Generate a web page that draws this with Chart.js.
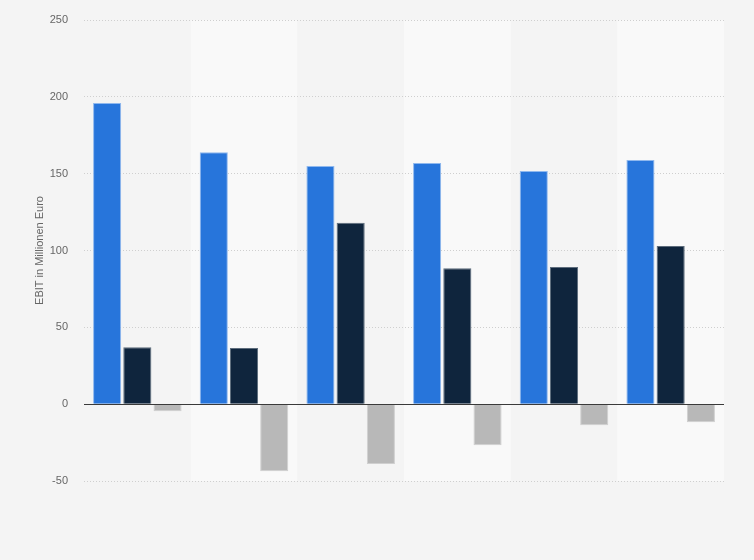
<!DOCTYPE html>
<html><head><meta charset="utf-8">
<script src="https://cdn.jsdelivr.net/npm/chart.js@4/dist/chart.umd.min.js"></script>
<style>html,body{margin:0;padding:0;background:#f4f4f4;}#wrap{width:754px;height:560px;}</style>
</head><body><div id="wrap"><canvas id="c" width="754" height="560"></canvas></div>
<script>
const categories = ["1", "2", "3", "4", "5", "6"];
const seriesA = [196, 164, 155, 157, 151.7, 158.9];
const seriesB = [37, 36.5, 118, 88.5, 89.2, 102.9];
const seriesC = [-4.6, -43.6, -39, -26.7, -13.7, -11.7];
const yTicks = [-50, 0, 50, 100, 150, 200, 250];

const bands = {
  id: 'bands',
  beforeDraw(chart) {
    const {ctx, chartArea, scales} = chart;
    const x = scales.x;
    const w = (chartArea.right - chartArea.left) / categories.length;
    ctx.save();
    ctx.fillStyle = '#f9f9f9';
    categories.forEach((c, i) => {
      if (i % 2 === 1) {
        const cx = x.getPixelForValue(i);
        ctx.fillRect(cx - w / 2, chartArea.top, w, chartArea.bottom - chartArea.top);
      }
    });
    ctx.restore();
  }
};

const zeroLine = {
  id: 'zeroLine',
  afterDatasetsDraw(chart) {
    const {ctx, chartArea, scales} = chart;
    const y = Math.round(scales.y.getPixelForValue(0)) + 0.5;
    ctx.save();
    ctx.strokeStyle = '#3a3a3a';
    ctx.lineWidth = 1;
    ctx.beginPath();
    ctx.moveTo(chartArea.left, y);
    ctx.lineTo(chartArea.right, y);
    ctx.stroke();
    ctx.restore();
  }
};

new Chart(document.getElementById('c'), {
  type: 'bar',
  data: {
    labels: categories,
    datasets: [
      {data: seriesA, backgroundColor: '#2775db', borderColor: '#8fb8ee', borderWidth: 1},
      {data: seriesB, backgroundColor: '#0f253d', borderColor: '#5d6c7c', borderWidth: 1},
      {data: seriesC, backgroundColor: '#b8b8b8', borderColor: '#cfcfcf', borderWidth: 1}
    ]
  },
  options: {
    responsive: false,
    animation: false,
    devicePixelRatio: 1,
    layout: {padding: {left: 33, right: 30, top: 20, bottom: 79}},
    plugins: {legend: {display: false}, tooltip: {enabled: false}},
    datasets: {bar: {categoryPercentage: 0.85, barPercentage: 0.93}},
    scales: {
      x: {display: false, grid: {display: false}},
      y: {
        min: -50, max: 250,
        afterFit(s) { s.width = 51; s.paddingTop = 0; s.paddingBottom = 0; },
        afterBuildTicks(s) { s.ticks = yTicks.map(v => ({value: v})); },
        border: {display: false, dash: [1, 2]},
        grid: {
          drawTicks: false,
          color: ctx => ctx.tick && ctx.tick.value === 0 ? 'rgba(0,0,0,0)' : '#cfcfcf',
          lineWidth: 1
        },
        ticks: {padding: 16, color: '#666', font: {family: 'Liberation Sans, Arial, sans-serif', size: 11}},
        title: {display: true, text: 'EBIT in Millionen Euro', color: '#666', padding: 0,
          font: {family: 'Liberation Sans, Arial, sans-serif', size: 11}}
      }
    }
  },
  plugins: [bands, zeroLine]
});
</script></body></html>
